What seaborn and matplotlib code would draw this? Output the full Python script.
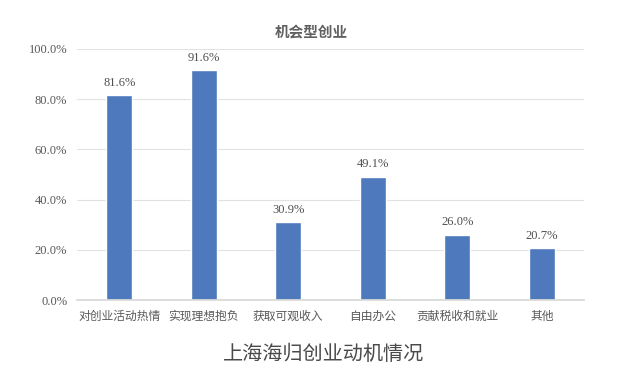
import matplotlib
matplotlib.use("Agg")
import matplotlib.pyplot as plt
import seaborn as sns
import pandas as pd
from matplotlib.ticker import FuncFormatter

categories = ["对创业活动热情", "实现理想抱负", "获取可观收入", "自由办公", "贡献税收和就业", "其他"]
values = [81.6, 91.6, 30.9, 49.1, 26.0, 20.7]
yticks = [0, 20, 40, 60, 80, 100]

sns.set_theme(style="white")
plt.rcParams["font.family"] = ["Noto Sans CJK SC", "DejaVu Sans"]
num_font = ["Liberation Serif", "DejaVu Serif"]

df = pd.DataFrame({"category": categories, "value": values})

fig = plt.figure(figsize=(6.4, 3.78), dpi=100)
ax = fig.add_axes([0.1203, 0.2063, 0.7922, 0.6641])

sns.barplot(data=df, x="category", y="value", color="#4E79BD", width=0.31,
            saturation=1, ax=ax)

for i, v in enumerate(values):
    ax.text(i, v + 2.5, f"{v:.1f}%", ha="center", va="bottom",
            fontsize=9, color="#505050", family=num_font)

ax.set_ylim(0, 100)
ax.set_yticks(yticks)
ax.yaxis.set_major_formatter(FuncFormatter(lambda y, _: f"{y:.1f}%"))
ax.grid(axis="y", color="#E2E2E2", linewidth=0.8)
ax.set_axisbelow(True)
for s in ["top", "right", "left"]:
    ax.spines[s].set_visible(False)
ax.spines["bottom"].set_color("#D9D9D9")
ax.tick_params(axis="both", length=0, labelcolor="#595959")
ax.tick_params(axis="y", pad=7, labelsize=9)
ax.tick_params(axis="x", pad=7, labelsize=8.5)
for lbl in ax.get_yticklabels():
    lbl.set_family(num_font)
ax.set_xlabel("")
ax.set_ylabel("")

fig.text(0.486, 0.913, "机会型创业", ha="center", va="center",
         fontsize=10.5, fontweight="bold", color="#606060")
fig.text(0.505, 0.063, "上海海归创业动机情况", ha="center", va="center",
         fontsize=14.5, color="#4A4A4A")

fig.savefig("out.png", dpi=100, facecolor="white")
